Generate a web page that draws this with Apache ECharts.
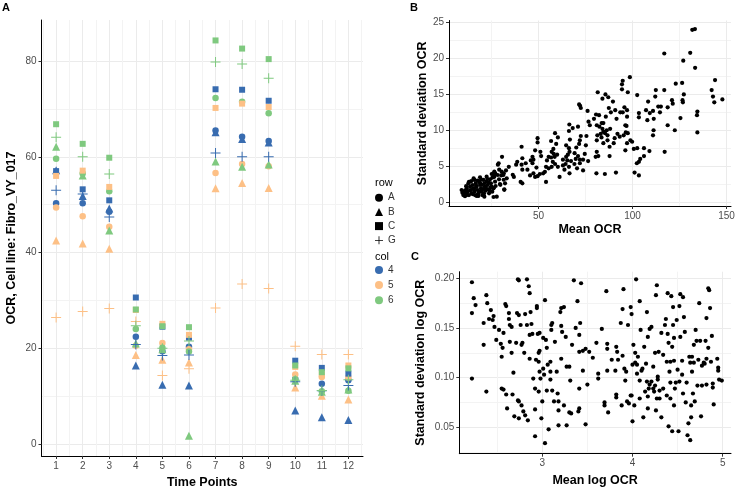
<!DOCTYPE html>
<html><head><meta charset="utf-8">
<script src="https://cdn.jsdelivr.net/npm/echarts@6/dist/echarts.min.js"></script>
<style>html,body{margin:0;padding:0;background:#fff}#c{width:735px;height:488px}</style>
</head><body><div id="c"></div>
<script>
// ---------- Panel A data: OCR per time point, one array per (row, col) group ----------
const timePoints = [1,2,3,4,5,6,7,8,9,10,11,12];
const A4 = [50.3,50.3,48.5,22.4,19.4,20.3,65.5,64.2,63.3,13.6,12.6,13.3];
const A5 = [49.4,47.6,45.4,20.5,21.1,19.8,56.6,58.5,58.0,14.5,14.0,13.9];
const A6 = [59.6,56.5,52.8,24.0,20.1,19.3,72.3,71.5,69.1,13.5,11.0,11.1];
const B4 = [57.2,51.8,49.2,16.4,12.4,12.2,65.1,63.7,63.0,7.0,5.6,5.0];
const B5 = [42.5,41.9,40.8,18.6,17.6,17.0,53.4,54.5,53.5,11.8,10.1,9.3];
const B6 = [62.1,56.1,44.6,21.0,19.8,1.7,59.0,57.9,58.4,13.2,10.9,11.4];
const C4 = [57.0,53.2,50.9,30.6,24.5,22.2,74.1,74.0,71.7,17.4,15.9,14.7];
const C5 = [56.0,57.1,53.7,28.0,25.1,22.8,70.2,71.1,70.4,16.1,14.6,16.4];
const C6 = [66.8,62.7,59.8,28.1,24.6,24.4,84.3,82.6,80.4,16.4,15.0,15.8];
const G4 = [53.0,52.2,47.4,20.8,18.5,18.6,60.8,60.0,60.0,13.0,11.1,12.2];
const G5 = [26.4,27.7,28.3,25.6,14.3,15.7,28.4,33.4,32.5,20.4,18.7,18.7];
const G6 = [64.1,60.0,56.4,24.7,20.0,21.5,79.8,79.4,76.4,13.3,11.2,13.4];
const rowNames = ['A','B','C','G'];
const colNames = ['4','5','6'];

// ---------- Panel B data: [mean OCR, sd OCR] ----------
const meanSdOCR = [
[131.8,24.0],[133.2,24.1],[130.7,20.8],[116.9,20.7],[127.0,19.7],[133.3,18.7],
[143.9,17.0],[142.1,15.6],[142.8,14.7],[143.5,13.9],[147.8,14.3],
[134.5,12.6],[134.3,12.1],[134.5,9.7],
[123.0,16.5],[126.4,16.6],[127.3,15.0],[126.6,14.2],[126.8,13.9],[125.5,11.7],[122.5,10.0],
[121.0,14.2],[121.4,13.7],[118.7,13.2],[116.9,15.6],[118.7,10.7],[117.1,7.0],
[112.4,15.6],[112.1,14.7],[113.7,13.3],[115.1,13.3],[114.6,12.5],[110.9,12.7],[111.3,11.6],[111.2,10.0],[110.9,9.3],
[108.3,14.0],[107.2,12.8],[107.9,11.4],[109.2,12.4],[109.0,7.1],[106.1,7.5],[106.1,6.4],[104.1,6.0],[103.4,5.6],[102.3,5.4],[103.4,3.7],[101.1,4.1],
[102.5,14.9],[103.4,12.4],[103.4,11.8],[102.5,7.5],[100.7,7.4],[99.8,8.4],
[98.6,17.4],[94.8,16.9],[94.4,16.4],[94.4,15.7],[97.5,15.3],[95.7,13.2],[93.5,12.5],[94.8,12.5],[97.1,12.8],[97.1,11.9],[96.2,10.7],[96.8,10.6],[96.4,9.7],[97.5,9.6],[95.3,9.3],[98.9,8.6],[93.2,9.1],[97.1,8.2],[96.2,7.2],[90.8,12.8],[91.5,11.6],[92.0,9.5],[90.5,8.9],[90.0,8.2],[91.2,4.1],
[87.1,14.6],[85.6,15.0],[84.0,14.4],[81.5,15.3],[87.4,13.1],[89.6,14.0],[88.5,12.5],[85.8,11.9],[84.5,11.0],[83.6,11.0],[82.2,12.1],[80.6,12.2],[79.5,11.6],[81.0,10.7],[82.4,10.5],[84.0,10.2],[84.5,9.8],[85.4,9.6],[86.7,9.3],[88.1,10.2],[86.3,10.0],[83.1,9.5],[81.3,9.3],[81.0,8.6],[83.5,9.0],[86.7,8.6],[84.5,8.2],[87.8,7.7],[87.8,6.4],[81.0,7.0],[80.4,6.3],[81.8,6.4],[80.8,4.0],[85.3,3.9],
[76.1,12.7],[76.6,11.2],[77.3,10.7],[75.5,9.2],[75.2,7.9],[74.6,6.7],[73.7,5.9],[76.4,5.7],
[71.6,13.6],[72.1,13.4],[72.5,13.1],[71.0,10.5],[72.5,9.2],[71.6,8.1],[72.0,8.6],[70.1,7.6],[69.2,6.8],[71.0,6.4],[69.8,6.0],[72.0,5.9],[69.1,5.3],[72.0,5.4],[70.5,4.7],[73.7,4.4],[68.2,10.3],[66.4,10.8],
[66.2,9.9],[66.7,8.7],[64.7,7.9],[66.2,7.5],[66.5,7.0],[65.6,6.6],[64.7,6.3],[63.0,5.9],[65.3,5.8],[67.3,5.7],[64.4,5.3],[63.0,5.1],[66.2,4.9],[63.8,4.5],[66.5,4.0],
[58.8,9.6],[60.3,9.0],[59.4,8.1],[56.7,8.5],[57.9,7.4],[57.0,7.0],[58.1,6.7],[58.6,6.3],[56.7,6.2],[59.9,6.6],[55.4,6.3],[54.5,5.8],[57.6,5.6],[58.8,5.3],[57.0,4.9],[60.3,4.9],[61.2,3.5],[54.0,4.9],[53.4,4.2],[54.0,2.8],[55.4,4.7],[52.5,4.0],[50.7,3.9],[49.5,3.6],[48.2,3.5],
[49.5,8.9],[49.5,8.3],[48.2,7.2],[46.8,6.3],[45.9,5.8],[47.3,5.9],[51.0,7.0],[51.4,6.4],[46.8,5.4],[48.9,4.8],[47.3,4.0],[45.5,3.7],
[41.0,7.7],[41.4,6.1],[43.2,5.4],[41.0,5.2],[41.4,4.5],[44.1,4.5],[40.5,2.8],[41.4,2.6],[38.7,5.6],[38.1,5.2],[36.3,3.8],[36.9,3.5],[34.2,4.9],[32.7,4.4],[31.5,4.0],[30.2,3.7],[30.6,6.3],[28.8,5.4],[28.4,5.2],[29.1,4.5],[27.0,4.0],[26.1,3.5],[31.5,3.1],[31.8,1.7],[29.7,2.4],[26.1,1.9],[26.1,0.7],
[9.1,1.67],[9.5,1.30],[10.0,0.97],[10.9,1.58],[11.3,1.11],[11.8,1.90],[12.3,1.44],[13.0,0.97],[13.6,2.14],[14.1,1.67],[14.5,1.21],[14.8,2.37],[15.3,1.90],[15.9,1.44],[16.2,0.97],[16.6,2.60],[17.1,2.14],[17.6,1.67],[18.0,1.21],[18.4,2.83],[18.9,2.37],[19.4,1.90],[19.8,1.44],[20.1,0.97],[20.7,3.07],[21.2,2.60],[21.5,2.14],[21.9,1.58],[22.4,2.83],[23.0,2.37],[23.3,1.77],[23.7,1.21],[24.2,3.16],[24.7,2.60],[25.1,2.14],[25.4,1.44],[26.0,4.00],[26.5,3.53],[26.9,2.83],[27.2,2.23],[27.8,0.74],[28.3,3.76],[29.0,3.16],[29.5,2.51],[30.4,4.23],[31.3,3.76],[31.8,1.77],[32.2,2.60],[33.1,3.30],[26.5,4.23],[25.1,3.90],[21.2,0.74],[18.0,0.85],[10.9,0.80],[12.7,2.60],[15.9,3.07],[18.9,3.44],[22.4,3.53],[17.1,0.85],
[10.5,1.4],[12.0,1.0],[13.5,1.6],[14.2,2.9],[15.0,1.1],[16.0,1.9],[16.8,2.3],[17.5,3.0],[18.5,1.5],[19.0,2.6],[19.5,3.1],[20.5,1.8],[21.0,1.2],[22.0,2.0],[22.8,3.2],[23.5,2.7],[24.0,1.6],[24.5,2.0],[25.5,3.4],[26.0,1.9],[13.0,2.8],[11.5,2.2],[20.0,2.4],[17.8,1.0],[15.5,3.3]
];

// ---------- Panel C data: [mean log OCR, sd log OCR] ----------
const meanSdLogOCR = [
[2.22,0.196],[2.24,0.180],[2.26,0.173],[2.22,0.165],[2.22,0.099],[2.35,0.155],[2.35,0.133],[2.38,0.183],[2.39,0.175],[2.41,0.159],[2.43,0.168],[2.45,0.158],[2.46,0.162],[2.47,0.151],[2.49,0.138],[2.38,0.086],
[2.52,0.148],[2.54,0.134],[2.55,0.121],[2.56,0.130],[2.57,0.145],[2.59,0.174],[2.60,0.172],[2.55,0.089],[2.57,0.088],[2.60,0.083],[2.61,0.069],
[2.63,0.165],[2.63,0.159],[2.64,0.153],[2.66,0.151],[2.64,0.136],[2.66,0.125],[2.68,0.105],[2.67,0.083],[2.69,0.061],
[2.72,0.165],[2.71,0.135],[2.73,0.199],[2.74,0.198],[2.74,0.163],[2.76,0.153],[2.78,0.135],[2.80,0.125],[2.77,0.133],[2.73,0.077],[2.74,0.076],[2.77,0.072],[2.79,0.066],[2.74,0.059],
[2.81,0.164],[2.83,0.153],[2.83,0.199],[2.85,0.192],[2.86,0.185],[2.87,0.166],[2.88,0.154],[2.89,0.144],[2.86,0.119],[2.86,0.143],[2.84,0.057],[2.81,0.062],[2.90,0.099],[2.92,0.089],[2.92,0.068],[2.92,0.041],
[2.94,0.172],[2.94,0.170],[2.95,0.144],[2.96,0.125],[2.97,0.106],[2.98,0.099],[2.96,0.086],[2.97,0.145],[2.93,0.118],[2.96,0.116],[2.97,0.127],[2.99,0.059],[3.01,0.140],[3.03,0.178],[3.01,0.109],[3.02,0.103],[3.00,0.076],[3.03,0.034],[3.05,0.087],[3.04,0.138],[3.05,0.130],[3.06,0.113],[3.07,0.048],[3.09,0.116],[3.09,0.098],[3.09,0.106],[3.10,0.153],[3.11,0.155],[3.10,0.148],[3.11,0.087],[3.13,0.076],[3.14,0.136],[3.16,0.106],[3.17,0.084],[3.18,0.076],[3.18,0.052],[3.18,0.067],
[3.20,0.166],[3.21,0.170],[3.24,0.171],[3.21,0.152],[3.22,0.146],[3.26,0.141],[3.21,0.119],[3.27,0.111],[3.30,0.111],[3.24,0.072],[3.27,0.052],[3.30,0.065],[3.32,0.064],[3.31,0.097],[3.33,0.133],[3.35,0.198],[3.37,0.150],[3.39,0.177],[3.41,0.143],[3.42,0.155],[3.43,0.195],[3.41,0.126],[3.45,0.127],[3.45,0.107],[3.40,0.066],[3.41,0.069],[3.41,0.089],[3.48,0.129],[3.48,0.053],[3.50,0.093],[3.52,0.126],[3.56,0.120],
[3.60,0.135],[3.62,0.099],[3.62,0.104],[3.66,0.149],[3.69,0.075],[3.69,0.072],[3.71,0.187],[3.72,0.134],[3.72,0.129],[3.72,0.107],[3.73,0.065],[3.77,0.118],[3.81,0.107],[3.82,0.131],[3.83,0.126],[3.84,0.118],[3.82,0.083],[3.82,0.080],[3.87,0.155],[3.88,0.072],[3.89,0.122],[3.89,0.169],[3.90,0.189],[3.91,0.109],[3.92,0.097],[3.93,0.106],[3.94,0.076],[3.95,0.153],[3.96,0.074],[3.98,0.082],[3.98,0.171],[3.99,0.164],[3.99,0.082],[4.00,0.113],[4.00,0.056],[4.01,0.133],[4.02,0.072],[4.03,0.125],[4.03,0.115],[4.04,0.199],[4.05,0.113],[4.05,0.104],[4.06,0.121],[4.08,0.097],[4.08,0.177],[4.09,0.148],[4.08,0.079],[4.10,0.107],[4.11,0.109],[4.12,0.060],[4.13,0.131],[4.14,0.086],[4.15,0.114],[4.16,0.096],[4.16,0.166],[4.17,0.141],[4.17,0.069],[4.17,0.081],[4.18,0.089],[4.19,0.093],[4.19,0.149],[4.21,0.151],[4.21,0.096],[4.23,0.111],[4.23,0.089],[4.24,0.086],[4.25,0.092],[4.25,0.125],[4.26,0.183],[4.27,0.193],[4.26,0.067],[4.27,0.079],[4.28,0.098],[4.28,0.101],[4.29,0.126],[4.30,0.087],[4.30,0.079],[4.32,0.145],[4.32,0.060],[4.34,0.089],[4.34,0.123],[4.36,0.153],[4.37,0.159],[4.38,0.082],[4.38,0.116],[4.39,0.185],[4.39,0.144],[4.40,0.051],[4.40,0.135],[4.41,0.106],[4.42,0.095],[4.42,0.079],[4.42,0.116],[4.43,0.182],[4.44,0.131],[4.44,0.046],[4.45,0.171],[4.45,0.153],[4.46,0.140],[4.46,0.117],[4.46,0.072],[4.47,0.089],[4.48,0.095],[4.49,0.158],[4.50,0.108],[4.51,0.046],[4.52,0.096],[4.52,0.172],[4.53,0.184],[4.53,0.141],[4.55,0.117],[4.55,0.103],[4.56,0.084],[4.56,0.181],[4.57,0.161],[4.58,0.146],[4.59,0.075],[4.60,0.095],[4.61,0.042],[4.62,0.054],[4.63,0.121],[4.64,0.115],[4.64,0.037],[4.65,0.060],[4.65,0.072],[4.66,0.121],[4.66,0.106],[4.67,0.084],[4.68,0.133],[4.68,0.115],[4.69,0.076],[4.70,0.148],[4.71,0.137],[4.72,0.092],[4.73,0.118],[4.74,0.175],[4.75,0.137],[4.76,0.061],[4.77,0.112],[4.77,0.092],[4.79,0.115],[4.80,0.114],[4.81,0.137],[4.82,0.160],[4.82,0.093],[4.84,0.190],[4.85,0.188],[4.86,0.170],[4.87,0.116],[4.88,0.142],[4.89,0.094],[4.89,0.090],[4.90,0.073],[4.94,0.119],[4.95,0.110],[4.95,0.107],[4.96,0.098],[4.99,0.097],[4.84,0.130],[4.82,0.119]
];

// ---------- Tick values ----------
const timeTicks = [1,2,3,4,5,6,7,8,9,10,11,12];
const ocrTicks = [0,20,40,60,80];
const meanTicks = [50,100,150];
const sdTicks = [0,5,10,15,20,25];
const meanLogTicks = [3,4,5];
const sdLogTicks = [0.05,0.10,0.15,0.20];

// ---------- Styling ----------
const FONT = 'Liberation Sans, Arial, sans-serif';
const colColors = {'4':'#386cb0','5':'#fdc086','6':'#7fc97f'};
const PLUS = 'path://M9,0L11,0L11,9L20,9L20,11L11,11L11,20L9,20L9,11L0,11L0,9L9,9Z';
const rowSymbol = {A:'circle', B:'triangle', C:'rect', G:PLUS};
const rowSize = {A:6.5, B:8, C:6, G:10};
const groups = {A4,A5,A6,B4,B5,B6,C4,C5,C6,G4,G5,G6};

function axis(o) {
  return {
    type:'value', gridIndex:o.grid, min:o.min, max:o.max,
    minInterval:o.step, maxInterval:o.step,
    name:o.name, nameLocation:'middle', nameGap:o.nameGap,
    nameTextStyle:{fontFamily:FONT, fontWeight:'bold', fontSize:12.5, color:'#000'},
    axisLine:{show:true, onZero:false, lineStyle:{color:'#000', width:1}},
    axisTick:{show:true, length:3, customValues:o.ticks, lineStyle:{color:'#333', width:1}},
    axisLabel:{customValues:o.ticks, margin:5, fontFamily:FONT, fontSize:10, color:'#4D4D4D',
               formatter:o.fmt || (v => String(v))},
    splitLine:{show:true, lineStyle:{color:'#EBEBEB', width:1}},
    minorTick:{show:false, splitNumber:2},
    minorSplitLine:{show:true, lineStyle:{color:'#F3F3F3', width:1}}
  };
}

const series = [];
rowNames.forEach(r => {
  colNames.forEach(c => {
    const vals = groups[r + c];
    series.push({
      type:'scatter', name:r + '-' + c, xAxisIndex:0, yAxisIndex:0,
      symbol:rowSymbol[r], symbolSize:rowSize[r],
      itemStyle:{color:colColors[c], opacity:1},
      data:timePoints.map((t,i) => [t, vals[i]])
    });
  });
});
// legend-only series
rowNames.forEach(r => series.push({type:'scatter', name:r, xAxisIndex:0, yAxisIndex:0, data:[],
  symbol:rowSymbol[r], itemStyle:{color:'#000', opacity:1}}));
colNames.forEach(c => series.push({type:'scatter', name:c, xAxisIndex:0, yAxisIndex:0, data:[],
  symbol:'circle', itemStyle:{color:colColors[c], opacity:1}}));
series.push({type:'scatter', name:'sdOCR', xAxisIndex:1, yAxisIndex:1, symbolSize:4.2,
  itemStyle:{color:'#000', opacity:1}, data:meanSdOCR});
series.push({type:'scatter', name:'sdLogOCR', xAxisIndex:2, yAxisIndex:2, symbolSize:4.2,
  itemStyle:{color:'#000', opacity:1}, data:meanSdLogOCR});

const chart = echarts.init(document.getElementById('c'), null, {renderer:'canvas'});
const titleStyle = {fontFamily:FONT, fontWeight:'bold', fontSize:11, color:'#000'};
const legTitle = {fontFamily:FONT, fontWeight:'normal', fontSize:11, color:'#000'};
chart.setOption({
  animation:false,
  backgroundColor:'#fff',
  title:[
    {text:'A', left:2, top:2, padding:0, textStyle:titleStyle},
    {text:'B', left:410, top:2, padding:0, textStyle:titleStyle},
    {text:'C', left:411, top:251, padding:0, textStyle:titleStyle},
    {text:'row', left:375, top:177, padding:0, textStyle:legTitle},
    {text:'col', left:375, top:251, padding:0, textStyle:legTitle}
  ],
  legend:[
    {data:rowNames, orient:'vertical', left:375, top:192.7, itemWidth:8, itemHeight:8, itemGap:4.2,
     padding:0, selectedMode:false, textStyle:{fontFamily:FONT, fontSize:10, color:'#333'}},
    {data:colNames, orient:'vertical', left:375, top:265, itemWidth:8, itemHeight:8, itemGap:5.1,
     padding:0, selectedMode:false, textStyle:{fontFamily:FONT, fontSize:10, color:'#333'}}
  ],
  grid:[
    {left:41.5, top:20, width:321.5, height:436, outerBoundsMode:'none', containLabel:false},
    {left:449, top:20.5, width:282, height:185.5, outerBoundsMode:'none', containLabel:false},
    {left:459.3, top:271.7, width:271.7, height:182, outerBoundsMode:'none', containLabel:false}
  ],
  xAxis:[
    axis({grid:0, min:0.45, max:12.55, step:1, ticks:timeTicks, name:'Time Points', nameGap:16}),
    axis({grid:1, min:2.39, max:152.39, step:50, ticks:meanTicks, name:'Mean OCR', nameGap:17}),
    axis({grid:2, min:2.08, max:5.092, step:1, ticks:meanLogTicks, name:'Mean log OCR', nameGap:20})
  ],
  yAxis:[
    axis({grid:0, min:-2.507, max:88.57, step:20, ticks:ocrTicks, name:'OCR, Cell line: Fibro_VY_017', nameGap:23}),
    axis({grid:1, min:-0.558, max:25.30, step:5, ticks:sdTicks, name:'Standard deviation OCR', nameGap:18.5}),
    axis({grid:2, min:0.02341, max:0.20664, step:0.05, ticks:sdLogTicks, name:'Standard deviation log OCR', nameGap:31.8,
          fmt:v => v.toFixed(2)})
  ],
  series:series
});
</script>
</body></html>
